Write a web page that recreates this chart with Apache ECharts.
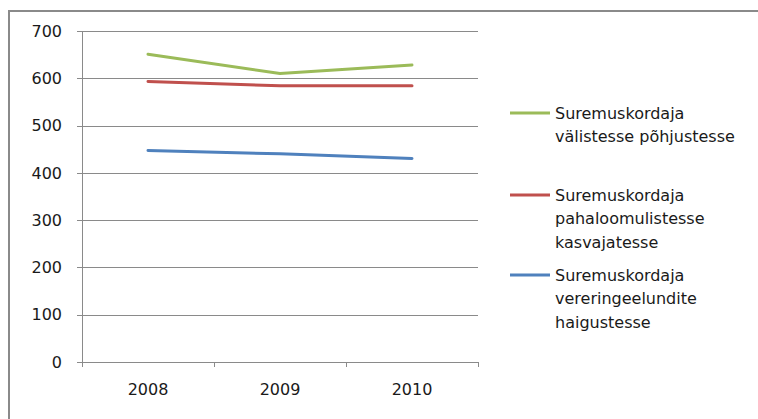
<!DOCTYPE html>
<html><head><meta charset="utf-8">
<script src="https://cdn.jsdelivr.net/npm/echarts@6/dist/echarts.min.js"></script>
<style>html,body{margin:0;padding:0;background:#fff}#c{width:758px;height:419px}</style>
</head><body><div id="c"></div>
<script>
const years = ['2008', '2009', '2010'];
const seriesNames = [
  'Suremuskordaja välistesse põhjustesse',
  'Suremuskordaja pahaloomulistesse kasvajatesse',
  'Suremuskordaja vereringeelundite haigustesse'
];
const legendLines = [
  ['Suremuskordaja', 'välistesse põhjustesse'],
  ['Suremuskordaja', 'pahaloomulistesse', 'kasvajatesse'],
  ['Suremuskordaja', 'vereringeelundite', 'haigustesse']
];
const valuesExternal = [652, 611, 629];
const valuesMalignant = [594, 585, 585];
const valuesCirculatory = [448, 441, 431];
const colors = ['#9BBB59', '#C0504D', '#4F81BD'];
const yTicks = { min: 0, max: 700, interval: 100 };

const FONT = 'DejaVu Sans';
const LH = 23.5;
const legendCenters = [113, 195, 275];

const chart = echarts.init(document.getElementById('c'), null, { renderer: 'svg' });
const allValues = [valuesExternal, valuesMalignant, valuesCirculatory];

const legends = seriesNames.map((name, i) => {
  const n = legendLines[i].length;
  const blanks = new Array(n - 1).fill('').join('\n') + '\n';
  return {
    left: 510,
    top: legendCenters[i] - (2 * n - 1) * LH / 2,
    padding: 0,
    orient: 'vertical',
    icon: 'rect',
    itemWidth: 40,
    itemHeight: 3,
    selectedMode: false,
    data: [{ name: name }],
    formatter: () => blanks + legendLines[i].join('\n'),
    textStyle: {
      fontFamily: FONT, fontSize: 16, color: '#1a1a1a', lineHeight: LH
    }
  };
});

chart.setOption({
  animation: false,
  color: colors,
  graphic: [{
    type: 'rect', silent: true, z: -1,
    shape: { x: 9, y: 11, width: 780, height: 420 },
    style: { fill: 'none', stroke: '#8a8a8a', lineWidth: 2 }
  }],
  legend: legends,
  grid: { left: 82, top: 31.5, width: 396, height: 330.5, containLabel: false },
  xAxis: {
    type: 'category',
    data: years,
    boundaryGap: true,
    axisLine: { lineStyle: { color: '#8a8a8a', width: 1 } },
    axisTick: { show: true, length: 5, lineStyle: { color: '#8a8a8a' } },
    axisLabel: { fontFamily: FONT, fontSize: 16, color: '#1a1a1a', margin: 19 }
  },
  yAxis: {
    type: 'value',
    min: yTicks.min, max: yTicks.max, interval: yTicks.interval,
    axisLine: { show: true, lineStyle: { color: '#8a8a8a', width: 1 } },
    axisTick: { show: true, length: 5, lineStyle: { color: '#8a8a8a' } },
    splitLine: { show: true, lineStyle: { color: '#8a8a8a', width: 1 } },
    axisLabel: { fontFamily: FONT, fontSize: 16, color: '#1a1a1a', margin: 20 }
  },
  series: seriesNames.map((name, i) => ({
    name: name,
    type: 'line',
    data: allValues[i],
    symbol: 'none',
    lineStyle: { width: 3, color: colors[i], cap: 'round' },
    itemStyle: { color: colors[i] }
  }))
});
</script></body></html>
